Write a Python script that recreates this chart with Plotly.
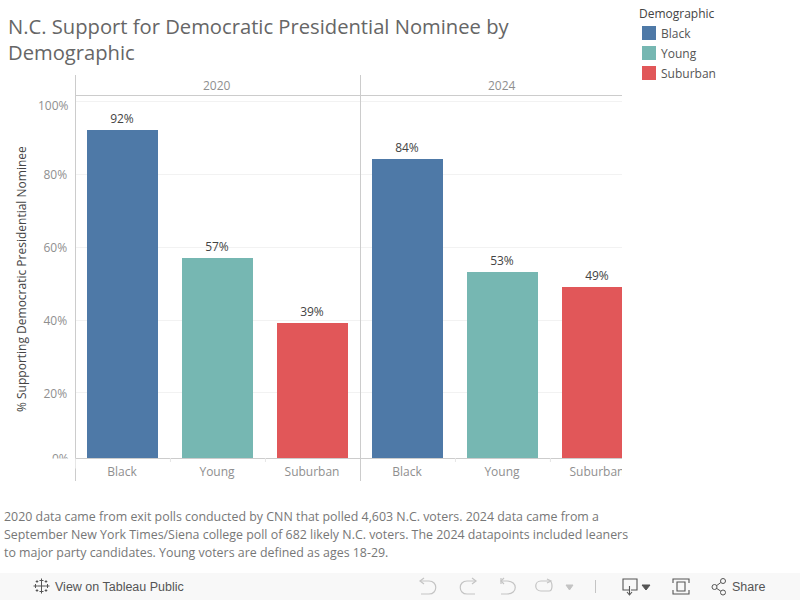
import re
import plotly.graph_objects as go

categories = ["Black", "Young", "Suburban"]
colours = ["#4e79a7", "#76b7b2", "#e15759"]
years = ["2020", "2024"]
values_2020 = [92, 57, 39.2]
values_2024 = [84, 53.2, 49]
y_ticks = [20, 40, 60, 80, 100]
title_text = "N.C. Support for Democratic Presidential Nominee by<br>Demographic"
legend_title = "Demographic"
note_lines = [
    "2020 data came from exit polls conducted by CNN that polled 4,603 N.C. voters. 2024 data came from a",
    "September New York Times/Siena college poll of 682 likely N.C. voters. The 2024 datapoints included leaners",
    "to major party candidates. Young voters are defined as ages 18-29.",
]

W, H = 800, 600
FONT = "Open Sans"
GREY = "#8f8f8f"
LINE = "#cccccc"
GRID = "#f2f2f2"
ICON = "#555555"
ICON_OFF = "#c4c4c4"

def fx(x):
    return x / W

def fy(y):
    return 1 - y / H

def px_path(d):
    out = []
    is_x = True
    for t in d.split():
        if re.fullmatch(r"[A-Za-z]", t):
            out.append(t)
            is_x = True
        else:
            v = float(t)
            out.append(f"{fx(v):.5f}" if is_x else f"{fy(v):.5f}")
            is_x = not is_x
    return " ".join(out)

fig = go.Figure()
for axis_id, vals in (("", values_2020), ("2", values_2024)):
    for cat, val, col in zip(categories, vals, colours):
        fig.add_trace(go.Bar(
            x=[cat], y=[val], name=cat, marker=dict(color=col, line_width=0),
            width=0.747, text=[f"{val:.0f}%"], textposition="outside", cliponaxis=False,
            textfont=dict(family=FONT, size=12, color="#444444"),
            xaxis="x" + axis_id, yaxis="y" + axis_id, showlegend=False,
        ))

xcommon = dict(
    type="category", categoryorder="array", categoryarray=categories,
    showgrid=False, zeroline=False, showline=False, automargin=False,
    ticks="outside", ticklen=3, tickcolor="rgba(0,0,0,0)",
    tickfont=dict(family=FONT, size=12, color=GREY),
)
y_lo, y_hi = 2.19, 101.37
ycommon = dict(
    range=[y_lo, y_hi], domain=[fy(458), fy(96)], tickvals=y_ticks, automargin=False,
    showgrid=True, gridcolor=GRID, gridwidth=1, zeroline=False, showline=False,
    fixedrange=True,
)

shapes = []
def line(x0, y0, x1, y1, color=LINE, width=1):
    shapes.append(dict(type="line", xref="paper", yref="paper", x0=fx(x0), y0=fy(y0),
                       x1=fx(x1), y1=fy(y1), line=dict(color=color, width=width), layer="above"))

def rect(x0, y0, x1, y1, color, layer="above"):
    shapes.append(dict(type="rect", xref="paper", yref="paper", x0=fx(x0), y0=fy(y0),
                       x1=fx(x1), y1=fy(y1), fillcolor=color, line_width=0, layer=layer))

def icon(d, color=ICON_OFF, width=1.2, fill=None):
    s = dict(type="path", xref="paper", yref="paper", path=px_path(d),
             line=dict(color=color, width=width), layer="above")
    if fill:
        s["fillcolor"] = fill
    shapes.append(s)

# mask that clips the last category label at the panel's right edge
rect(622, 459, 640, 484, "#ffffff")

# panel frame
line(75.5, 75, 75.5, 481)
line(360.5, 75, 360.5, 481)
line(75, 95.5, 622, 95.5)
line(75, 458.5, 622, 458.5)
for xr in ("x", "x2"):
    for pos in (0.51, 1.51):
        shapes.append(dict(type="line", xref=xr, yref="paper", x0=pos, x1=pos,
                           y0=fy(458), y1=fy(462), line=dict(color="#e6e6e6", width=1), layer="above"))

# legend swatches
for i, col in enumerate(colours):
    rect(642, 26 + 20 * i, 656, 40 + 20 * i, col)

# toolbar
rect(0, 573, 800, 600, "#f8f8f8")
# tableau mark
for cx, cy, r in [(41.5, 586, 4), (41.5, 580.5, 2), (41.5, 591.5, 2), (35.5, 586, 2), (47.5, 586, 2),
                  (37, 581.5, 1.3), (46, 581.5, 1.3), (37, 590.5, 1.3), (46, 590.5, 1.3)]:
    line(cx - r, cy, cx + r, cy, ICON, 1)
    line(cx, cy - r, cx, cy + r, ICON, 1)
# undo
icon("M 421 581 L 429 581 C 438 581 438 594 429 594 L 421 594")
icon("M 424 578 L 420 581 L 424 584")
# redo
icon("M 475 581 L 467 581 C 458 581 458 594 467 594 L 475 594")
icon("M 472 578 L 476 581 L 472 584")
# revert
icon("M 501 581 L 507 581 C 518 581 518 594 507 594 L 501 594")
icon("M 501 578 L 501 584")
icon("M 504 578 L 501 581 L 504 584")
# refresh
icon("M 541 581 L 549 581 C 553 581 553 591 549 591 L 541 591 C 534 591 534 581 541 581")
icon("M 547 579 L 551 581 L 547 583")
# menu arrows
icon("M 566 585 L 573 585 L 569.5 590 Z", ICON_OFF, 1, ICON_OFF)
line(595.5, 580, 595.5, 593, ICON_OFF, 1)
# download
icon("M 629 590 L 623 590 L 623 579 L 637 579 L 637 590 L 631 590", ICON, 1.1)
icon("M 629.5 586 L 629.5 594", ICON, 1.1)
icon("M 627 592 L 629.5 595 L 632 592", ICON, 1.1)
icon("M 642 585 L 650 585 L 646 590 Z", ICON, 1, ICON)
# fullscreen
icon("M 673 583 L 673 579 L 689 579 L 689 583", ICON, 1.1)
icon("M 673 590 L 673 594 L 689 594 L 689 590", ICON, 1.1)
icon("M 677 582 L 685 582 L 685 591 L 677 591 Z", ICON, 1.1)
# share
for cx, cy in [(714.5, 587), (723, 581), (723, 592.5)]:
    shapes.append(dict(type="circle", xref="paper", yref="paper", x0=fx(cx - 2.5), x1=fx(cx + 2.5),
                       y0=fy(cy - 2.5), y1=fy(cy + 2.5), line=dict(color=ICON, width=1), layer="above"))
line(716.7, 585.6, 720.8, 582.5, ICON, 1)
line(716.7, 588.4, 720.8, 591.2, ICON, 1)

annotations = []
def label(x, y, text, size=12, color=GREY, family=FONT, xanchor="left", **kw):
    annotations.append(dict(xref="paper", yref="paper", x=fx(x), y=fy(y), text=text, showarrow=False,
                            xanchor=xanchor, yanchor="middle", align="left",
                            font=dict(family=family, size=size, color=color),
                            borderpad=0, borderwidth=0, **kw))

# year headers, placed on each panel's own category axis
for xr, yr in (("x", years[0]), ("x2", years[1])):
    annotations.append(dict(xref=xr, yref="paper", x=1, y=fy(85.5), text=yr, showarrow=False,
                            font=dict(family=FONT, size=12, color=GREY), yanchor="middle"))

# first and last y labels are nudged inside the plot, and the 0% one is cut by the axis
label(69, 105, "100%", xanchor="right")
label(69, 458.5, "0%", xanchor="right")
annotations.append(dict(xref="paper", yref="paper", x=fx(38), y=fy(458), xanchor="left", yanchor="top",
                        text=" ", showarrow=False, bgcolor="#ffffff", width=36, height=9, borderpad=0))

label(21, 279, "% Supporting Democratic Presidential Nominee", size=12, color="#444444",
      xanchor="center", textangle=-90)
for i, txt in enumerate(note_lines):
    label(4, 516 + 18 * i, txt, size=12.4, color="#777777")
label(55, 586.5, "View on Tableau Public", size=12.5, color="#555555", family="Liberation Sans")
label(732, 586.5, "Share", size=12.5, color="#555555", family="Liberation Sans")

# legend, with square swatches on the same rows as its labels
label(639, 14, legend_title, color="#444444")
for i, cat in enumerate(categories):
    label(661, 33 + 20 * i, cat, color="#555555")

fig.update_layout(
    width=W, height=H, autosize=False,
    margin=dict(l=0, r=0, t=0, b=0),
    paper_bgcolor="#ffffff", plot_bgcolor="#ffffff",
    barmode="overlay", bargap=0,
    title=dict(text=title_text, x=fx(8), xanchor="left", y=fy(34), yanchor="middle",
               font=dict(family=FONT, size=20.2, color="#666666")),
    xaxis=dict(domain=[fx(75.5), fx(360.5)], range=[-0.4895, 2.5105], anchor="y", **xcommon),
    xaxis2=dict(domain=[fx(360.5), fx(622)], range=[-0.4895, 2.2635], anchor="y2", **xcommon),
    yaxis=dict(anchor="x", tickfont=dict(family=FONT, size=12, color=GREY),
               ticktext=["20%", "40%", "60%", "80%", ""], ticks="outside", ticklen=5,
               ticklabelshift=1, tickcolor="rgba(0,0,0,0)", **ycommon),
    yaxis2=dict(anchor="x2", showticklabels=False, ticks="", **ycommon),
    shapes=shapes, annotations=annotations, showlegend=False, hovermode=False,
)

fig.write_html("out.html", config=dict(displayModeBar=False),
               post_script="document.documentElement.style.overflow='hidden';document.body.style.margin='0';")
